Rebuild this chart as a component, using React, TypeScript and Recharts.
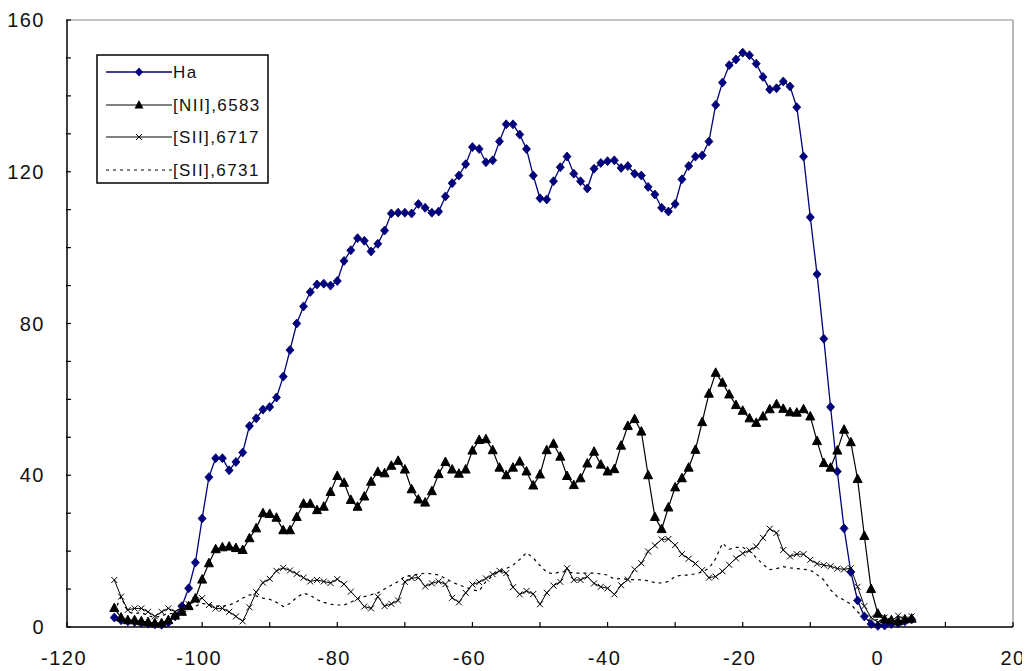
import React from 'react';
import { LineChart, Line, XAxis, YAxis, ReferenceLine } from 'recharts';

// velocity (km/s) of each sample
const velocity = [
  -113, -112, -111, -110, -109, -108, -107, -106, -105, -104,
  -103, -102, -101, -100, -99, -98, -97, -96, -95, -94,
  -93, -92, -91, -90, -89, -88, -87, -86, -85, -84,
  -83, -82, -81, -80, -79, -78, -77, -76, -75, -74,
  -73, -72, -71, -70, -69, -68, -67, -66, -65, -64,
  -63, -62, -61, -60, -59, -58, -57, -56, -55, -54,
  -53, -52, -51, -50, -49, -48, -47, -46, -45, -44,
  -43, -42, -41, -40, -39, -38, -37, -36, -35, -34,
  -33, -32, -31, -30, -29, -28, -27, -26, -25, -24,
  -23, -22, -21, -20, -19, -18, -17, -16, -15, -14,
  -13, -12, -11, -10, -9, -8, -7, -6, -5, -4,
  -3, -2, -1, 0, 1, 2, 3, 4, 5,
];

const ha = [
  2.5, 1.8, 1.5, 1.4, 1.1, 0.9, 0.7, 0.6, 1.2, 2.8,
  5.5, 10.2, 17, 28.6, 39.5, 44.5, 44.5, 41.3, 43.5, 46,
  53, 55, 57.3, 58, 60.5, 66, 73, 80, 84.5, 88.3,
  90.3, 90.5, 90, 91.2, 96.5, 99.3, 102.5, 101.8, 99, 101,
  104.5, 109, 109.2, 109.2, 109, 111.5, 110.5, 109.2, 109.5, 113.5,
  117, 119, 122, 126.5, 126, 122.5, 123, 128, 132.5, 132.5,
  129.8, 126, 119, 113, 112.7, 117.5, 121.2, 124, 119.5, 117.5,
  115.6, 120.8, 122.3, 122.8, 123, 121, 121.5, 119.5, 119, 116,
  114, 110.5, 109.5, 111.5, 118, 121.5, 124, 124.3, 128, 137.6,
  143.5, 148.1, 149.6, 151.4, 150.7, 148.5, 145, 141.7, 142, 143.8,
  142.5, 137, 124, 108, 93, 76, 58, 41, 26, 14.5,
  7, 2.8, 0.8, 0.3, 0.4, 0.8, 1.0, 1.5, 2.0,
];

const nii6583 = [
  5, 2.5, 1.8, 1.8, 1.5, 1.3, 1.0, 1.0, 1.8, 3.0,
  4.0, 5.5, 7.5, 12.5, 16.8, 20.5, 21, 21.2, 20.8, 20.3,
  23.4, 26, 30, 29.8, 28.8, 25.5, 25.5, 29, 32.5, 32.5,
  30.8, 31.7, 35.6, 39.8, 38, 33.5, 31.7, 34.4, 38.3, 40.9,
  40.5, 42.5, 43.8, 41.5, 36.3, 33.6, 32.8, 35.8, 40.3, 43.5,
  41.5, 40.4, 41.5, 46.5, 49.3, 49.5, 46.6, 42, 40, 42,
  43.6, 41, 37.3, 40.2, 46.6, 48.3, 44.9, 39.8, 37.4, 39.2,
  43.1, 46.2, 42.8, 41, 41.6, 47.8, 53, 54.8, 51.5, 40,
  29, 25.8, 31.5, 36.8, 39.2, 42, 46.7, 54, 61.5, 67,
  64.4, 61.3, 58.5, 57, 55, 53.8, 55.5, 57.4, 58.7, 57.5,
  56.6, 56.5, 57.4, 55.5, 49, 43.2, 42, 46.5, 52, 48.7,
  39, 24, 10, 3.5, 2, 1.8, 1.5, 2, 2.2,
];

const sii6717 = [
  12.4, 8, 4.5, 4.9, 4.9, 4.0, 2.8, 4.0, 4.9, 4.0,
  5.2, 6.0, 7.0, 7.6, 5.8, 4.9, 4.9, 4.0, 2.8, 1.5,
  5.2, 9.2, 11.7, 12.7, 14.8, 15.6, 14.9, 14.0, 13.0, 12.0,
  12.4, 12.0, 11.6, 12.6, 11.3, 9.3, 7.5, 5.4, 4.9, 8.0,
  5.5, 6.1, 7.0, 11.9, 12.9, 13.0, 10.7, 11.5, 12.0, 11.3,
  7.7, 6.5, 9.0, 11.2, 11.8, 12.8, 13.9, 14.8, 14.2, 10.5,
  8.6, 9.5, 8.7, 6.0, 9.0, 10.9, 11.9, 15.5, 12.4, 12.4,
  13.3, 11.5, 10.6, 10.2, 8.6, 11.0, 12.5, 15.2, 16.8, 19.9,
  21.5, 23.1, 23.2, 21.6, 19.2, 18, 16.7, 15, 13, 13.3,
  14.7, 16.4, 18.1, 19.4, 20.2, 21.2, 23.5, 25.9, 24.8, 20.3,
  18.6, 19.2, 19.2, 17.7, 16.7, 16.3, 16, 15.4, 15.2, 15.5,
  10.6, 5.5, 2.5, 1.2, 2.5, 1.5, 3.0, 2.0, 2.8,
];

const sii6731 = [
  4.0, 8, 4, 3.5, 3.8, 3.0, 2.5, 3.0, 3.5, 3.5,
  3.5, 4.5, 5.5, 6.2, 6.0, 5.5, 5.5, 5.8, 6.5, 7.6,
  8.5, 8.2, 7.6, 7.3, 6.5, 5.4, 6.2, 7.8, 8.9, 8.4,
  7.2, 6.5, 6.0, 5.8, 5.8, 6.5, 7.5, 8.0, 8.5, 9.0,
  10.0, 11.0, 12.0, 13.3, 13.6, 13.9, 14.2, 14.0, 13.7, 12.8,
  11.8, 11.1, 10.5, 9.8, 9.5, 12.0, 13.5, 14.8, 15.4, 16.3,
  17.8, 19.6, 18.2, 16.2, 14.4, 14.0, 14.6, 14.5, 14.2, 14.2,
  14.2, 14.2, 14.0, 13.7, 12.6, 12.8, 12.5, 12.5, 12.4, 12.2,
  11.7, 11.6, 12.0, 13.3, 13.7, 13.7, 14.0, 14.5, 15.5, 18.0,
  22.1, 20.5, 21.0, 21.0, 20.0, 18.3, 16.5, 15.1, 15.4, 15.9,
  15.6, 15.4, 15.2, 15.0, 13.8, 12.4, 9.8, 8.0, 7.1, 6.0,
  4.0, 2.5, 1.5, 2.0, 2.5, 2.0, 1.8, 2.0, 2.5,
];

const xTicks = [-120, -110, -100, -90, -80, -70, -60, -50, -40, -30, -20, -10, 0, 10, 20];
const yTicks = [0, 10, 20, 30, 40, 50, 60, 70, 80, 90, 100, 110, 120, 130, 140, 150, 160];
const seriesNames = ['Ha', '[NII],6583', '[SII],6717', '[SII],6731'];

const data = velocity.map((v, i) => ({
  v,
  ha: ha[i],
  nii: nii6583[i],
  s17: sii6717[i],
  s31: sii6731[i],
}));

const FONT = '"Liberation Sans", Arial, sans-serif';
const NAVY = '#000080';

const diamond = (cx: number, cy: number) =>
  `M${cx},${cy - 4.5}L${cx + 4},${cy}L${cx},${cy + 4.5}L${cx - 4},${cy}Z`;
const triangle = (cx: number, cy: number) =>
  `M${cx},${cy - 5}L${cx + 4.5},${cy + 3.5}L${cx - 4.5},${cy + 3.5}Z`;
const cross = (cx: number, cy: number) =>
  `M${cx - 3},${cy - 3}L${cx + 3},${cy + 3}M${cx - 3},${cy + 3}L${cx + 3},${cy - 3}`;

const HaDot = (p: any) => (
  <path key={'ha' + p.index} d={diamond(p.cx, p.cy)} fill={NAVY} stroke="#000060" strokeWidth={0.8} />
);
const NiiDot = (p: any) => <path key={'n' + p.index} d={triangle(p.cx, p.cy)} fill="#000" stroke="#000" />;
const SiiDot = (p: any) => <path key={'s' + p.index} d={cross(p.cx, p.cy)} fill="none" stroke="#000" strokeWidth={1} />;

const XTick = ({ x, y, payload }: any) => {
  const v = payload.value;
  return (
    <g>
      <line x1={x} x2={x} y1={y} y2={y - 5} stroke="#000" strokeWidth={1.2} />
      {v % 20 === 0 && (
        <text x={v < 0 ? x - 3 : x} y={y + 31} textAnchor="middle" dominantBaseline="central"
          fontFamily={FONT} fontSize={20} letterSpacing={1.5} fill="#111">
          {v}
        </text>
      )}
    </g>
  );
};

const YTick = ({ x, y, payload }: any) => {
  const v = payload.value;
  return (
    <g>
      <line x1={x - 1} x2={x + 4} y1={y} y2={y} stroke="#000" strokeWidth={1.2} />
      {v % 40 === 0 && (
        <text x={x - 22} y={y} textAnchor="end" dominantBaseline="central"
          fontFamily={FONT} fontSize={20} letterSpacing={1.5} fill="#111">
          {v}
        </text>
      )}
    </g>
  );
};

function LegendBox() {
  const rows = [18, 51, 83, 116];
  return (
    <svg width={173} height={130} style={{ position: 'absolute', left: 88, top: 46 }}>
      <rect x={1} y={1} width={171} height={128} fill="#fff" stroke="#000" strokeWidth={1.5} />
      {/* Ha */}
      <line x1={10} x2={76} y1={rows[0]} y2={rows[0]} stroke={NAVY} strokeWidth={1.5} />
      <path d={diamond(43, rows[0])} fill={NAVY} />
      {/* NII */}
      <line x1={10} x2={76} y1={rows[1]} y2={rows[1]} stroke="#000" strokeWidth={1.2} />
      <path d={triangle(43, rows[1])} fill="#000" />
      {/* SII 6717 */}
      <line x1={10} x2={76} y1={rows[2]} y2={rows[2]} stroke="#000" strokeWidth={1.2} />
      <path d={cross(43, rows[2])} stroke="#000" />
      {/* SII 6731 */}
      <line x1={10} x2={76} y1={rows[3]} y2={rows[3]} stroke="#000" strokeWidth={1.2} strokeDasharray="3 4" />
      {seriesNames.map((name, i) => (
        <text key={name} x={77} y={rows[i]} dominantBaseline="central" fontFamily={FONT}
          fontSize={17} letterSpacing={1.4} fill="#111">
          {name}
        </text>
      ))}
    </svg>
  );
}

export default function App() {
  return (
    <div style={{ position: 'relative', width: 1022, height: 663, background: '#fff' }}>
      <LineChart width={1022} height={663} data={data} margin={{ top: 12, right: 17, bottom: 0, left: 0 }}>
        <XAxis dataKey="v" type="number" domain={[-120, 20]} ticks={xTicks} interval={0}
          height={44} tickSize={0} tickMargin={0} tickLine={false} tick={<XTick />}
          stroke="#000" strokeWidth={1.5} />
        <YAxis type="number" domain={[0, 160]} ticks={yTicks} interval={0} width={59}
          tickSize={0} tickMargin={0} tickLine={false} tick={<YTick />}
          stroke="#000" strokeWidth={1.5} />
        {/* plot frame, top and right */}
        <ReferenceLine y={160} stroke="#8a8a8a" strokeWidth={1.2} />
        <ReferenceLine x={20} stroke="#8a8a8a" strokeWidth={1.2} />
        <Line dataKey="ha" type="linear" stroke={NAVY} strokeWidth={1.3} dot={HaDot} isAnimationActive={false} />
        <Line dataKey="nii" type="linear" stroke="#000" strokeWidth={1.2} dot={NiiDot} isAnimationActive={false} />
        <Line dataKey="s17" type="linear" stroke="#000" strokeWidth={1} dot={SiiDot} isAnimationActive={false} />
        <Line dataKey="s31" type="linear" stroke="#000" strokeWidth={1.2} strokeDasharray="3 4" dot={false}
          isAnimationActive={false} />
      </LineChart>
      <LegendBox />
    </div>
  );
}
